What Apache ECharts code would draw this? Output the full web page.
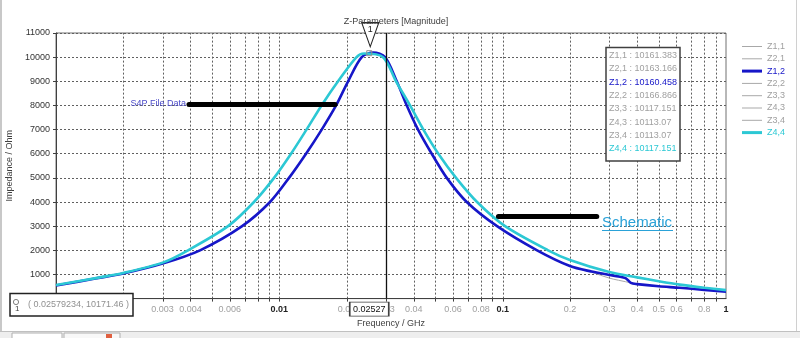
<!DOCTYPE html>
<html>
<head>
<meta charset="utf-8">
<script src="https://cdn.jsdelivr.net/npm/echarts@6.0.0/dist/echarts.min.js"></script>
<style>
html,body{margin:0;padding:0;background:#fff;}
#c{width:800px;height:338px;}
</style>
</head>
<body>
<div id="c"></div>
<script>
// ---- data ----
const blueFreq = [0.001,0.0015,0.002,0.003,0.004415,0.006814,0.009086,0.011052,0.013169,0.01548,0.01795,0.020317,0.02339,0.02636,0.02973,0.03355,0.0372,0.04179,0.04813,0.0562,0.06906,0.09438,0.1426,0.2,0.25,0.3,0.33,0.355,0.375,0.4,0.5,0.62,0.8,1];
const blueVals = [540,830,1040,1450,2000,3000,4000,5000,6000,7000,8000,9000,10000,10190,10000,9000,8000,7000,6000,5000,4000,3000,2000,1350,1120,980,920,850,650,600,510,450,360,290];
const z11Vals  = [540,830,1040,1450,2000,3000,4000,5000,6000,7000,8000,9000,10000,10185,10000,9000,8000,7000,6000,5000,4000,3000,2000,1350,1090,850,760,700,650,600,510,450,360,290];
const cyanFreq = [0.001,0.001574,0.002,0.003024,0.003901,0.005893,0.0077,0.009469,0.011282,0.013235,0.015453,0.018323,0.022164,0.023954,0.02913,0.03331,0.03848,0.04415,0.05152,0.06183,0.0768,0.10251,0.15973,0.2,0.3,0.4,0.5,0.62,0.8,1];
const cyanVals = [560,880,1060,1500,2000,3000,4000,5000,6000,7000,8000,9000,10000,10150,10000,9000,8000,7000,6000,5000,4000,3000,2000,1600,1100,880,720,580,450,350];

const seriesNames = ['Z1,1','Z2,1','Z1,2','Z2,2','Z3,3','Z4,3','Z3,4','Z4,4'];
const markerVals = ['10161.383','10163.166','10160.458','10166.866','10117.151','10113.07','10113.07','10117.151'];
const markerFreq = 0.02527;
const markerReadout = '( 0.02579234, 10171.46 )';

const gridFreqs = [0.002,0.003,0.004,0.005,0.006,0.007,0.008,0.009,0.01,0.02,0.03,0.04,0.05,0.06,0.07,0.08,0.09,0.1,0.2,0.3,0.4,0.5,0.6,0.7,0.8,0.9];
const xLabelVals = [0.003,0.004,0.006,0.01,0.02,0.03,0.04,0.06,0.08,0.1,0.2,0.3,0.4,0.5,0.6,0.8,1];
const xLabelText = ['0.003','0.004','0.006','0.01','0.02','0.03','0.04','0.06','0.08','0.1','0.2','0.3','0.4','0.5','0.6','0.8','1'];
const xMajor = ['0.01','0.1','1'];

const FONT = '"Liberation Sans", Arial, sans-serif';
const BLUE = '#1616c8';
const CYAN = '#2cc8d4';
const GRAY = '#a8a8a8';

function zip(f, v){ return f.map((x,i)=>[x, v[i]]); }

const colors = {'Z1,2': BLUE, 'Z4,4': CYAN};
const dataFor = {
  'Z1,1': zip(blueFreq, z11Vals),
  'Z2,1': zip(blueFreq, blueVals),
  'Z2,2': zip(blueFreq, blueVals),
  'Z3,3': zip(cyanFreq, cyanVals),
  'Z4,3': zip(cyanFreq, cyanVals),
  'Z3,4': zip(cyanFreq, cyanVals),
  'Z1,2': zip(blueFreq, blueVals),
  'Z4,4': zip(cyanFreq, cyanVals)
};
const drawOrder = ['Z1,1','Z2,1','Z2,2','Z3,3','Z4,3','Z3,4','Z1,2','Z4,4'];

const chart = echarts.init(document.getElementById('c'), null, {renderer:'canvas'});

const lineSeries = drawOrder.map(name => {
  const main = !!colors[name];
  const s = {
    name, type:'line', data: dataFor[name], showSymbol:false, smooth:0.3,
    z: main ? 3 : 2,
    color: colors[name] || GRAY,
    lineStyle:{width: main ? 2.6 : 1, color: colors[name] || GRAY},
    silent:true, animation:false
  };
  if (name === 'Z1,2') {
    s.markLine = {
      silent:true, symbol:['none','none'], animation:false,
      lineStyle:{color:'#000', width:5, type:'solid', cap:'round'},
      data:[
        [{coord:[0.00394, 8065], label:{show:true, position:'start', formatter:'S4P File Data', color:'#4b4bc8', fontSize:9, fontFamily:FONT, distance:3}},
         {coord:[0.01776, 8065]}],
        [{coord:[0.0957, 3394], label:{show:false}},
         {coord:[0.2638, 3394]}]
      ]
    };
  }
  if (name === 'Z4,4') {
    s.markLine = {
      silent:true, symbol:['none','none'], animation:false,
      lineStyle:{color:'#111', width:1.3, type:'solid'},
      label:{show:false},
      data:[{xAxis: markerFreq}]
    };
    s.markPoint = {
      silent:true, animation:false,
      data:[
        {coord:[markerFreq, 10165], symbol:'rect', symbolSize:5,
         itemStyle:{color:'rgba(255,255,255,0)', borderColor:'#909090', borderWidth:1}, label:{show:false}},
        {coord:[markerFreq, 11000], symbol:'path://M0,0L17,0L8.5,24Z', symbolSize:[17,24], symbolOffset:[1,1.7],
         itemStyle:{color:'#fff', borderColor:'#222', borderWidth:1.2},
         label:{show:true, position:'inside', formatter:'1', offset:[0,-5], color:'#222', fontSize:9, fontFamily:FONT}},
        {coord:[markerFreq, 0], symbol:'rect', symbolSize:[39,14], symbolOffset:[0,10.5],
         itemStyle:{color:'#fff', borderColor:'#404040', borderWidth:1},
         label:{show:true, position:'inside', formatter:String(markerFreq), color:'#111', fontSize:9, fontFamily:FONT}}
      ]
    };
  }
  return s;
});

const gridSeries = {
  type:'custom', name:'xgrid', z:1, silent:true, clip:false, animation:false,
  data: gridFreqs.map(f => [f, 0]),
  renderItem(params, api){
    const f = api.value(0);
    const p0 = api.coord([f, 0]);
    const p1 = api.coord([f, 11000]);
    const x = Math.round(p0[0]) + 0.5;
    return {type:'group', children:[
      {type:'line', shape:{x1:x, y1:p0[1], x2:x, y2:p1[1]}, style:{stroke:'#606060', lineWidth:1, lineDash:[2,2]}},
      {type:'line', shape:{x1:x, y1:p0[1], x2:x, y2:p0[1]+3}, style:{stroke:'#404040', lineWidth:1}}
    ]};
  }
};

const labelSeries = {
  type:'custom', name:'xlabels', z:1, silent:true, clip:false, animation:false,
  data: xLabelVals.map(f => [f, 0]),
  renderItem(params, api){
    const f = api.value(0);
    const p = api.coord([f, 0]);
    const t = xLabelText[params.dataIndex];
    const major = xMajor.indexOf(t) >= 0;
    return {type:'text', x:p[0], y:p[1]+6,
      style:{text:t, fill: major ? '#222' : '#a0a0a0',
        font: (major ? 'bold ' : '') + '9px ' + FONT,
        align:'center', verticalAlign:'top', textAlign:'center', textVerticalAlign:'top'}};
  }
};

const legendData = seriesNames.map(n => ({
  name:n,
  icon: colors[n] ? 'path://M0,0H20V3H0Z' : 'path://M0,0H20V1H0Z',
  textStyle:{color: colors[n] || '#a0a0a0'}
}));

const ZG = 100;
const infoChildren = [
  {type:'rect', z:ZG, shape:{x:606, y:47.5, width:74, height:113.5}, style:{fill:'#fff', stroke:'#404040', lineWidth:1.5}}
];
seriesNames.forEach((n,i) => {
  infoChildren.push({type:'text', z:ZG+1, x:609, y:55.7 + 13.3*i,
    style:{text: n + ' : ' + markerVals[i], fill: colors[n] || '#a0a0a0', font:'9px ' + FONT, verticalAlign:'middle', textVerticalAlign:'middle'}});
});

const option = {
  backgroundColor:'#fff',
  animation:false,
  title:{text:'Z-Parameters [Magnitude]', left:391, top:12, textAlign:'center',
    textStyle:{fontSize:9, fontWeight:'normal', color:'#404040', fontFamily:FONT}},
  grid:{left:56, right:74, top:33, bottom:39.4, show:true, borderColor:'#707070', borderWidth:1,
    containLabel:false, outerBoundsMode:'none'},
  legend:{orient:'vertical', left:737, top:37, itemWidth:20, itemHeight:10, itemGap:3.3,
    symbolKeepAspect:true, selectedMode:false,
    itemStyle:{borderWidth:0},
    textStyle:{fontSize:9, fontFamily:FONT, color:'#a0a0a0', padding:[0,0,0,0]},
    data: legendData},
  xAxis:{type:'log', logBase:10, min:0.001, max:1,
    name:'Frequency / GHz', nameLocation:'middle', nameGap:20,
    nameTextStyle:{fontSize:9, color:'#404040', fontFamily:FONT},
    axisLine:{show:true, lineStyle:{color:'#404040', width:1}},
    axisTick:{show:false}, axisLabel:{show:false}, splitLine:{show:false}, minorTick:{show:false}},
  yAxis:{type:'value', min:0, max:11000, interval:1000,
    name:'Impedance / Ohm', nameLocation:'middle', nameGap:36, nameRotate:90,
    nameTextStyle:{fontSize:9, color:'#404040', fontFamily:FONT},
    axisLine:{show:true, lineStyle:{color:'#404040', width:1}},
    axisTick:{show:true, length:3, lineStyle:{color:'#404040'}},
    axisLabel:{fontSize:9, color:'#333', fontFamily:FONT, margin:6, formatter: v => String(v)},
    splitLine:{show:true, lineStyle:{color:'#606060', type:[2,2], width:1}}},
  series:[gridSeries, labelSeries].concat(lineSeries),
  graphic:[
    {type:'group', children: infoChildren},
    {type:'rect', z:ZG, shape:{x:10, y:293.5, width:123, height:22.5}, style:{fill:'#fff', stroke:'#222', lineWidth:1.5}},
    {type:'circle', z:ZG+1, shape:{cx:16, cy:302, r:2.6}, style:{fill:'#fff', stroke:'#808080', lineWidth:1}},
    {type:'text', z:ZG+1, x:15, y:309, style:{text:'1', fill:'#404040', font:'8px ' + FONT, verticalAlign:'middle', textVerticalAlign:'middle'}},
    {type:'text', z:ZG+1, x:28, y:305, style:{text:markerReadout, fill:'#909090', font:'9px ' + FONT, verticalAlign:'middle', textVerticalAlign:'middle'}},
    {type:'text', z:ZG+1, x:602, y:223, style:{text:'Schematic', fill:'#2aa2d8', font:'15px ' + FONT, verticalAlign:'middle', textVerticalAlign:'middle'}},
    {type:'line', z:ZG, shape:{x1:602, y1:230.5, x2:673, y2:230.5}, style:{stroke:'#2aa2d8', lineWidth:1}},
    {type:'rect', z:ZG, shape:{x:0, y:0, width:2, height:331}, style:{fill:'#c8c8c8'}},
    {type:'rect', z:ZG, shape:{x:796, y:0, width:1, height:331}, style:{fill:'#d0d0d0'}},
    {type:'rect', z:ZG, shape:{x:0, y:331, width:800, height:7}, style:{fill:'#eeeeee'}},
    {type:'line', z:ZG, shape:{x1:0, y1:331.5, x2:800, y2:331.5}, style:{stroke:'#c0c0c0', lineWidth:1}},
    {type:'rect', z:ZG, shape:{x:12, y:333, width:50, height:6}, style:{fill:'#fff', stroke:'#b0b0b0', lineWidth:1}},
    {type:'rect', z:ZG, shape:{x:64, y:333, width:56, height:6}, style:{fill:'#f8f8f8', stroke:'#b0b0b0', lineWidth:1}},
    {type:'rect', z:ZG+1, shape:{x:106, y:334, width:6, height:5}, style:{fill:'#e06040'}}
  ]
};
chart.setOption(option);
</script>
</body>
</html>
